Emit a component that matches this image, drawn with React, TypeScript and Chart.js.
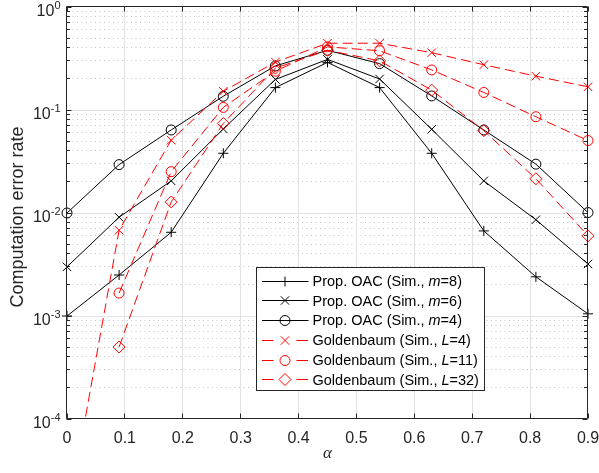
import React, { useEffect, useRef } from 'react';
import { Chart, registerables } from 'chart.js';

Chart.register(...registerables);

// ---------- data ----------
const alphaValues = [0, 0.09, 0.18, 0.27, 0.36, 0.45, 0.54, 0.63, 0.72, 0.81, 0.9];

const propM8 = [0.001, 0.0025, 0.0065, 0.038, 0.165, 0.29, 0.165, 0.038, 0.0067, 0.0024, 0.00105];
const propM6 = [0.003, 0.0091, 0.0205, 0.0655, 0.198, 0.31, 0.2, 0.065, 0.0205, 0.0086, 0.0032];
const propM4 = [0.01, 0.0295, 0.064, 0.136, 0.268, 0.38, 0.282, 0.137, 0.064, 0.0298, 0.0101];
const goldL4 = [1.05e-5, 0.0068, 0.051, 0.152, 0.292, 0.445, 0.445, 0.36, 0.275, 0.213, 0.168];
const goldL11 = [null, 0.00167, 0.0252, 0.106, 0.238, 0.41, 0.376, 0.245, 0.148, 0.086, 0.0505];
const goldL32 = [null, 0.0005, 0.0128, 0.074, 0.255, 0.38, 0.3, 0.156, 0.063, 0.0215, 0.006];

const seriesNames = [
  'Prop. OAC (Sim., m=8)',
  'Prop. OAC (Sim., m=6)',
  'Prop. OAC (Sim., m=4)',
  'Goldenbaum (Sim., L=4)',
  'Goldenbaum (Sim., L=11)',
  'Goldenbaum (Sim., L=32)',
];
const seriesMarkers = ['plus', 'x', 'circle', 'x', 'circle', 'diamond'];

const xTickValues = [0, 0.1, 0.2, 0.3, 0.4, 0.5, 0.6, 0.7, 0.8, 0.9];
const xTickLabels = ['0', '0.1', '0.2', '0.3', '0.4', '0.5', '0.6', '0.7', '0.8', '0.9'];
const yDecadeExponents = [-4, -3, -2, -1, 0];
const yTickBase = '10';
const yTickExponentLabels = ['-4', '-3', '-2', '-1', '0'];
const yMinorFactors = [2, 3, 4, 5, 6, 7, 8, 9];
const yAxisTitle = 'Computation error rate';
const xAxisTitle = 'α';

// ---------- styles ----------
const FONT = '"Liberation Sans", Arial, Helvetica, sans-serif';
const AXIS_COLOR = '#262626';
const BLACK = '#000000';
const RED = '#ff0000';
const DASH = [10, 5];

const seriesColors = [BLACK, BLACK, BLACK, RED, RED, RED];
const seriesDashed = [false, false, false, true, true, true];
const seriesValues = [propM8, propM6, propM4, goldL4, goldL11, goldL32];

const chartJsPointStyle: Record<string, string> = {
  plus: 'cross',
  x: 'crossRot',
  circle: 'circle',
  diamond: 'rectRot',
};
const chartJsPointRadius: Record<string, number> = {
  plus: 5,
  x: 6,
  circle: 5,
  diamond: 6,
};

function snap(v: number) {
  return Math.round(v - 0.5) + 0.5;
}

function drawMarker(ctx: CanvasRenderingContext2D, kind: string, x: number, y: number, color: string) {
  ctx.save();
  ctx.setLineDash([]);
  ctx.strokeStyle = color;
  ctx.lineWidth = 1;
  ctx.beginPath();
  if (kind === 'plus') {
    const r = 5;
    ctx.moveTo(x - r, y); ctx.lineTo(x + r, y);
    ctx.moveTo(x, y - r); ctx.lineTo(x, y + r);
  } else if (kind === 'x') {
    const r = 4.2;
    ctx.moveTo(x - r, y - r); ctx.lineTo(x + r, y + r);
    ctx.moveTo(x - r, y + r); ctx.lineTo(x + r, y - r);
  } else if (kind === 'circle') {
    ctx.arc(x, y, 5, 0, Math.PI * 2);
  } else if (kind === 'diamond') {
    const r = 6;
    ctx.moveTo(x, y - r); ctx.lineTo(x + r, y); ctx.lineTo(x, y + r); ctx.lineTo(x - r, y); ctx.closePath();
  }
  ctx.stroke();
  ctx.restore();
}

const matlabPlugin = {
  id: 'matlabAxes',
  beforeDatasetsDraw(chart: any) {
    const { ctx, chartArea: a, scales } = chart;
    const x = scales.x;
    const y = scales.y;
    ctx.save();
    // minor dotted grid (horizontal)
    ctx.strokeStyle = '#c4c4c4';
    ctx.lineWidth = 1;
    ctx.setLineDash([1, 3.5]);
    for (const e of yDecadeExponents) {
      for (const f of yMinorFactors) {
        const v = f * Math.pow(10, e);
        if (v >= 1) continue;
        const py = snap(y.getPixelForValue(v));
        ctx.beginPath();
        ctx.moveTo(a.left + 1, py);
        ctx.lineTo(a.right, py);
        ctx.stroke();
      }
    }
    ctx.setLineDash([]);
    // major grid
    ctx.strokeStyle = '#e2e2e2';
    for (const v of xTickValues) {
      const px = snap(x.getPixelForValue(v));
      if (px <= a.left + 1 || px >= a.right - 1) continue;
      ctx.beginPath();
      ctx.moveTo(px, a.top);
      ctx.lineTo(px, a.bottom);
      ctx.stroke();
    }
    for (const e of yDecadeExponents) {
      const py = snap(y.getPixelForValue(Math.pow(10, e)));
      if (py <= a.top + 1 || py >= a.bottom - 1) continue;
      ctx.beginPath();
      ctx.moveTo(a.left, py);
      ctx.lineTo(a.right, py);
      ctx.stroke();
    }
    ctx.restore();
  },
  afterDatasetsDraw(chart: any) {
    const { ctx, chartArea: a, scales } = chart;
    const x = scales.x;
    const y = scales.y;
    ctx.save();
    ctx.setLineDash([]);
    ctx.strokeStyle = AXIS_COLOR;
    ctx.lineWidth = 1;
    const L = snap(a.left - 0.5);
    const R = snap(a.right - 0.5);
    const T = snap(a.top - 0.5);
    const B = snap(a.bottom - 0.5);
    ctx.beginPath();
    ctx.rect(L, T, R - L, B - T);
    ctx.stroke();
    // x ticks (bottom and top)
    ctx.beginPath();
    for (const v of xTickValues) {
      const px = snap(x.getPixelForValue(v));
      ctx.moveTo(px, B); ctx.lineTo(px, B - 5);
      ctx.moveTo(px, T); ctx.lineTo(px, T + 5);
    }
    // y ticks (left and right)
    for (const e of yDecadeExponents) {
      const py = snap(y.getPixelForValue(Math.pow(10, e)));
      ctx.moveTo(L, py); ctx.lineTo(L + 5, py);
      ctx.moveTo(R, py); ctx.lineTo(R - 5, py);
      for (const f of yMinorFactors) {
        const v = f * Math.pow(10, e);
        if (v >= 1) continue;
        const pm = snap(y.getPixelForValue(v));
        ctx.moveTo(L, pm); ctx.lineTo(L + 3.5, pm);
        ctx.moveTo(R, pm); ctx.lineTo(R - 3.5, pm);
      }
    }
    ctx.stroke();

    // tick labels
    ctx.fillStyle = AXIS_COLOR;
    ctx.textBaseline = 'alphabetic';
    ctx.font = `16px ${FONT}`;
    ctx.textAlign = 'center';
    xTickValues.forEach((v, i) => {
      const px = x.getPixelForValue(v);
      ctx.fillText(xTickLabels[i], px, a.bottom + 24);
    });
    ctx.textAlign = 'left';
    yDecadeExponents.forEach((e, i) => {
      const py = y.getPixelForValue(Math.pow(10, e));
      ctx.font = `16px ${FONT}`;
      const wb = ctx.measureText(yTickBase).width;
      ctx.font = `11px ${FONT}`;
      const we = ctx.measureText(yTickExponentLabels[i]).width;
      const right = a.left - 6.5;
      const sx = right - wb - we;
      ctx.font = `16px ${FONT}`;
      ctx.fillText(yTickBase, sx, py + 9);
      ctx.font = `11px ${FONT}`;
      ctx.fillText(yTickExponentLabels[i], sx + wb, py + 1.5);
    });

    // axis titles
    ctx.font = `italic 17px "Liberation Serif", "DejaVu Serif", serif`;
    ctx.textAlign = 'center';
    ctx.fillText(xAxisTitle, (a.left + a.right) / 2, a.bottom + 38.5);

    ctx.save();
    ctx.translate(23, (a.top + a.bottom) / 2 + 4);
    ctx.rotate(-Math.PI / 2);
    ctx.font = `18px ${FONT}`;
    ctx.textAlign = 'center';
    ctx.fillText(yAxisTitle, 0, 0);
    ctx.restore();
    ctx.restore();
  },
  afterDraw(chart: any) {
    const { ctx } = chart;
    ctx.save();
    const bx = 256.5, by = 267.5, bw = 228, bh = 123;
    ctx.fillStyle = '#ffffff';
    ctx.fillRect(bx, by, bw, bh);
    ctx.strokeStyle = AXIS_COLOR;
    ctx.lineWidth = 1;
    ctx.setLineDash([]);
    ctx.strokeRect(bx, by, bw, bh);
    const rowH = 19.7;
    seriesNames.forEach((name, i) => {
      const cy = by + 13.2 + i * rowH;
      const color = seriesColors[i];
      ctx.save();
      ctx.strokeStyle = color;
      ctx.lineWidth = 1;
      if (seriesDashed[i]) ctx.setLineDash([11.5, 23]); else ctx.setLineDash([]);
      ctx.beginPath();
      ctx.moveTo(262, Math.round(cy) + 0.5);
      ctx.lineTo(308.5, Math.round(cy) + 0.5);
      ctx.stroke();
      ctx.restore();
      drawMarker(ctx, seriesMarkers[i], 285, Math.round(cy) + 0.5, color);
      // text with italic variable
      const m = name.match(/^(.*, )([A-Za-z])(=.*)$/);
      const parts = m ? [m[1], m[2], m[3]] : [name, '', ''];
      let tx = 312.5;
      const ty = cy + 5.3;
      ctx.fillStyle = '#000000';
      ctx.textAlign = 'left';
      ctx.textBaseline = 'alphabetic';
      parts.forEach((p, k) => {
        if (!p) return;
        ctx.font = (k === 1 ? 'italic ' : '') + `14.5px ${FONT}`;
        ctx.fillText(p, tx, ty);
        tx += ctx.measureText(p).width;
      });
    });
    ctx.restore();
  },
};

export default function App() {
  const canvasRef = useRef<HTMLCanvasElement | null>(null);

  useEffect(() => {
    document.body.style.margin = '0';
    const canvas = canvasRef.current;
    if (!canvas) return;
    const datasets = seriesNames.map((name, i) => {
      const kind = seriesMarkers[i];
      return {
        label: name,
        data: alphaValues.map((a, j) => ({ x: a, y: seriesValues[i][j] })),
        borderColor: seriesColors[i],
        backgroundColor: 'rgba(0,0,0,0)',
        borderWidth: 1,
        borderDash: seriesDashed[i] ? DASH : [],
        pointStyle: chartJsPointStyle[kind],
        pointRadius: chartJsPointRadius[kind],
        pointBorderWidth: 1,
        pointBorderColor: seriesColors[i],
        pointBackgroundColor: 'rgba(0,0,0,0)',
        pointHoverRadius: chartJsPointRadius[kind],
        tension: 0,
        spanGaps: false,
        fill: false,
        clip: { left: 10, right: 10, top: 10, bottom: 0 },
        order: seriesDashed[i] ? 0 : 1,
      };
    });
    const chart = new Chart(canvas, {
      type: 'line',
      data: { datasets },
      options: {
        responsive: false,
        animation: false,
        devicePixelRatio: 1,
        events: [],
        layout: { padding: { left: 67, right: 11, top: 7, bottom: 54 } },
        scales: {
          x: { type: 'linear', min: 0, max: 0.9, display: false },
          y: { type: 'logarithmic', min: 1e-4, max: 1, display: false },
        },
        plugins: {
          legend: { display: false },
          tooltip: { enabled: false },
          title: { display: false },
        },
      },
      plugins: [matlabPlugin],
    } as any);
    return () => chart.destroy();
  }, []);

  return (
    <div style={{ width: 599, height: 473, background: '#ffffff' }}>
      <canvas ref={canvasRef} width={599} height={473} style={{ display: 'block' }} />
    </div>
  );
}
